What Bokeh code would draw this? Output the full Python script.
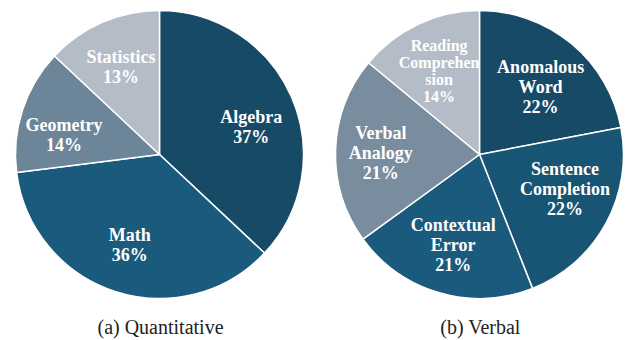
import math
from bokeh.plotting import figure
from bokeh.models import ColumnDataSource, Range1d
from bokeh.core.properties import value
from bokeh.embed import file_html
from bokeh.resources import INLINE

# ---- data ----
quant_labels = ["Algebra", "Math", "Geometry", "Statistics"]
quant_values = [37, 36, 14, 13]
quant_colors = ["#164a66", "#1a5b7d", "#6c8598", "#b4bdc7"]

verbal_labels = ["Anomalous\nWord", "Sentence\nCompletion", "Contextual\nError",
                 "Verbal\nAnalogy", "Reading\nComprehen\nsion"]
verbal_values = [22, 22, 21, 21, 14]
verbal_colors = ["#164a66", "#185575", "#1a5b7d", "#7a8d9f", "#b4bdc7"]

captions = ["(a) Quantitative", "(b) Verbal"]

W, H = 638, 340
p = figure(width=W, height=H, output_backend="svg", toolbar_location=None,
           x_range=Range1d(0, W), y_range=Range1d(0, H), min_border=0)
p.axis.visible = False
p.grid.visible = False
p.outline_line_color = None
p.background_fill_color = "white"
p.border_fill_color = "white"


def pie(cx, cy, r, r_lab, labels, vals, colors, sizes):
    total = float(sum(vals))
    starts, ends, lx, ly, txt = [], [], [], [], []
    cum = 0.0
    for lab, v in zip(labels, vals):
        a = cum / total
        b = (cum + v) / total
        cum += v
        starts.append(math.pi / 2 - b * 2 * math.pi)
        ends.append(math.pi / 2 - a * 2 * math.pi)
        mid = math.pi / 2 - (a + b) / 2 * 2 * math.pi
        c, s = math.cos(mid), math.sin(mid)
        # labels near the horizontal sit a little closer to the middle line
        squash = 1 - 0.4 * c ** 4
        lx.append(cx + r_lab * c * (1 + 0.05 * c ** 2))
        ly.append(cy + r_lab * s * squash)
        txt.append(f"{lab}\n{v}%")
    src = ColumnDataSource(dict(x=[cx] * len(vals), y=[cy] * len(vals),
                                start=starts, end=ends, color=colors,
                                lx=lx, ly=ly, txt=txt, size=sizes))
    p.wedge(x="x", y="y", radius=r, start_angle="start", end_angle="end",
            fill_color="color", line_color="white", line_width=1.5, source=src)
    p.text(x="lx", y="ly", text="txt", source=src, text_color="white",
           text_font=value("Liberation Serif"), text_font_style="bold",
           text_font_size="size", text_align="center", text_baseline="middle",
           text_line_height=1.0)


pie(159, 186, 144, 96, quant_labels, quant_values, quant_colors, ["18px"] * 4)
pie(479, 186, 144, 94, verbal_labels, verbal_values, verbal_colors,
    ["18px"] * 4 + ["16px"])

p.text(x=[160, 480], y=[3, 3], text=captions, text_color="#222222",
       text_font=value("Liberation Serif"), text_font_size="20px",
       text_align="center", text_baseline="bottom")

open("out.html", "w").write(file_html(p, INLINE))
